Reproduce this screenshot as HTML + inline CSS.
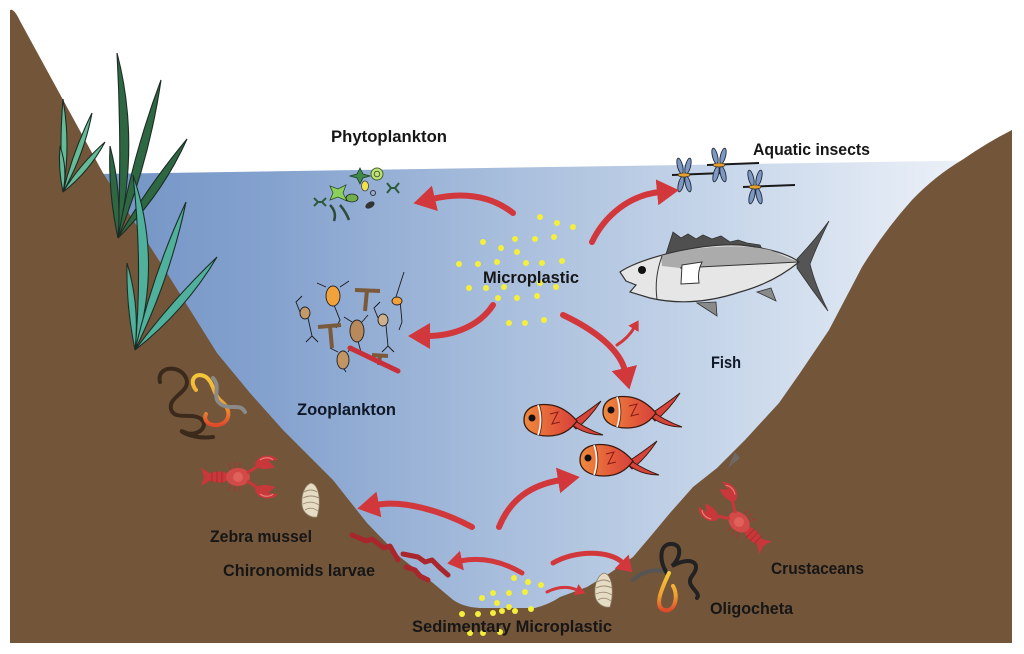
<!DOCTYPE html>
<html><head><meta charset="utf-8"><style>
html,body{margin:0;padding:0;background:#fff;}
svg{display:block;}
text{font-family:"Liberation Sans",sans-serif;font-weight:bold;font-size:16.5px;fill:#161616;}
</style></head><body>
<svg width="1024" height="654" viewBox="0 0 1024 654" xmlns="http://www.w3.org/2000/svg">
<defs>
<linearGradient id="wat" x1="100" y1="0" x2="1000" y2="0" gradientUnits="userSpaceOnUse">
<stop offset="0" stop-color="#7394c5"/><stop offset="0.2" stop-color="#86a3cf"/><stop offset="0.45" stop-color="#a8bedc"/><stop offset="0.7" stop-color="#c8d7ea"/><stop offset="0.9" stop-color="#e4ebf5"/><stop offset="1" stop-color="#f0f4f9"/>
</linearGradient>
<linearGradient id="fishg" x1="0" y1="0" x2="1" y2="0">
<stop offset="0" stop-color="#f08a3e"/><stop offset="0.6" stop-color="#e25a3a"/><stop offset="1" stop-color="#d6403a"/>
</linearGradient>
<linearGradient id="wormy" x1="0" y1="0" x2="0" y2="1">
<stop offset="0" stop-color="#f4c83a"/><stop offset="0.6" stop-color="#f0a030"/><stop offset="1" stop-color="#e04a2a"/>
</linearGradient>
<marker id="ab" markerUnits="userSpaceOnUse" markerWidth="26" markerHeight="28" refX="3" refY="13" orient="auto"><path d="M0,0 L22,13 L0,26 Z" fill="#d2373b"/></marker>
<marker id="am" markerUnits="userSpaceOnUse" markerWidth="20" markerHeight="22" refX="2" refY="10" orient="auto"><path d="M0,0 L15,10 L0,20 Z" fill="#d2373b"/></marker>
<marker id="as" markerUnits="userSpaceOnUse" markerWidth="14" markerHeight="14" refX="1" refY="6" orient="auto"><path d="M0,0 L10,6 L0,12 Z" fill="#d2373b"/></marker>
<g id="rfish">
<path d="M46,3 Q60,-6 77,-19 Q66,-2 52,9 Z" fill="#d9443a" stroke="#3a1a10" stroke-width="1"/>
<path d="M46,-3 Q60,8 79,15 Q62,15 48,5 Z" fill="#d9443a" stroke="#3a1a10" stroke-width="1"/>
<path d="M0,0 C0,-13 13,-17 27,-15 C39,-13 47,-6 53,1 C46,11 36,16 24,16 C10,16 0,10 0,0 Z" fill="url(#fishg)" stroke="#3a1a10" stroke-width="1.3"/>
<path d="M14,-15 Q19,0 14,15" fill="none" stroke="#fff" stroke-width="1.5"/>
<path d="M14,-15 Q19,0 14,15" fill="none" stroke="#3a1a10" stroke-width="0.6" transform="translate(1.5,0)"/>
<circle cx="8" cy="-2" r="3.5" fill="#111"/>
<path d="M26,-6 L34,-8 L28,4 L36,2" fill="none" stroke="#8a1a18" stroke-width="1"/>
</g>
<g id="cray">
<g stroke="#b52e30" stroke-width="0.8" fill="none">
<path d="M-6,6 L-10,14 M-2,7 L-4,15 M2,7 L2,15 M-6,-6 L-10,-14 M-2,-7 L-4,-15 M2,-7 L2,-15"/>
<path d="M10,-3 L32,-20 M10,3 L32,20"/>
</g>
<path d="M-37,-9 L-27,-3 L-27,3 L-37,9 L-34,0 Z" fill="#c8373a"/>
<ellipse cx="-19" cy="0" rx="11" ry="5.5" fill="#c8373a"/>
<path d="M-26,-5 L-26,5 M-21,-6 L-21,6 M-16,-6 L-16,6" stroke="#a52a2c" stroke-width="0.8"/>
<ellipse cx="0" cy="0" rx="12" ry="9" fill="#d24a48"/>
<circle cx="0" cy="0" r="5" fill="#e0605a"/>
<path d="M9,-4 L20,-11 M9,4 L20,11" stroke="#c8373a" stroke-width="3"/>
<path d="M17,-13 C20,-23 34,-24 40,-17 L30,-16 L37,-10 C29,-7 20,-7 17,-13 Z" fill="#c8373a"/>
<path d="M17,13 C20,23 34,24 40,17 L30,16 L37,10 C29,7 20,7 17,13 Z" fill="#c8373a"/>
<path d="M22,-17 C26,-20 32,-20 35,-17" stroke="#e88078" stroke-width="1.2" fill="none"/>
<path d="M22,17 C26,20 32,20 35,17" stroke="#e88078" stroke-width="1.2" fill="none"/>
</g>
<g id="mussel">
<path d="M0,-17 C9,-15 10,4 6,17 C0,18 -8,14 -9,5 C-10,-6 -6,-15 0,-17 Z" fill="#e6dcc3" stroke="#8a7d65" stroke-width="0.8"/>
<path d="M-7,-8 Q0,-12 6,-8 M-8,-2 Q0,-6 8,-2 M-8,4 Q0,0 8,5 M-6,10 Q0,6 7,11" fill="none" stroke="#9a8c70" stroke-width="0.9"/>
</g>
<g id="dfly">
<ellipse cx="-4" cy="-9" rx="2.6" ry="8" transform="rotate(-14 -4 -9)" fill="#7f98c2" stroke="#1e2a3a" stroke-width="0.9"/>
<ellipse cx="4" cy="-9" rx="2.6" ry="8" transform="rotate(14 4 -9)" fill="#7f98c2" stroke="#1e2a3a" stroke-width="0.9"/>
<ellipse cx="-3" cy="9" rx="2.6" ry="8" transform="rotate(14 -3 9)" fill="#7f98c2" stroke="#1e2a3a" stroke-width="0.9"/>
<ellipse cx="4" cy="9" rx="2.6" ry="8" transform="rotate(-14 4 9)" fill="#7f98c2" stroke="#1e2a3a" stroke-width="0.9"/>
<path d="M-12,0 L40,-2" stroke="#1a1a1a" stroke-width="2"/>
<ellipse cx="0" cy="0" rx="6" ry="2" fill="#e6a030" stroke="#222" stroke-width="0.6"/>
</g>
</defs>

<rect width="1024" height="654" fill="#fff"/>
<!-- water -->
<path d="M98,174 L1005,160 L1005,640 L98,640 Z" fill="url(#wat)"/>
<!-- ground -->
<path d="M10,10 Q14,8 20,21 L103,173 L160,262 L217,353 L250,393 L283,430 L333,480 L367,523 L400,557 L433,583 L452,599 Q462,607 480,608 L535,608 Q550,604 560,597 L587,587 L610,573 L633,557 L650,537 L670,513 L693,487 L717,468 L745,440 L779,403 L800,373 L829,330 L862,267 Q885,230 912,200 Q935,176 962,160 Q988,142 1012,130 L1012,643 L10,643 Z" fill="#73553a"/>
<path d="M735,452 L728,468 L740,458 Z" fill="#6e7480" opacity="0.6"/>

<!-- grass -->
<g stroke="#1c2c24" stroke-width="1.1">
<path d="M63,192 Q71,145 63,99 Q59,145 63,192Z" fill="#63bb98"/>
<path d="M63,192 Q84,155 92,113 Q73,151 63,192Z" fill="#63bb98"/>
<path d="M63,192 Q89,172 105,142 Q80,164 63,192Z" fill="#63bb98"/>
<path d="M63,192 Q68,169 60,146 Q58,169 63,192Z" fill="#63bb98"/>
<path d="M118,238 Q140,140 117,53 Q122,145 118,238Z" fill="#2e6843"/>
<path d="M118,238 Q149,162 161,80 Q132,157 118,238Z" fill="#2e6843"/>
<path d="M118,238 Q162,195 187,139 Q148,186 118,238Z" fill="#2e6843"/>
<path d="M118,238 Q122,192 110,146 Q108,192 118,238Z" fill="#2e6843"/>
<path d="M135,350 Q163,262 133,175 Q143,265 135,350Z" fill="#4fb09c"/>
<path d="M135,350 Q170,279 186,202 Q153,273 135,350Z" fill="#4fb09c"/>
<path d="M135,350 Q185,311 217,257 Q172,300 135,350Z" fill="#4fb09c"/>
<path d="M135,350 Q140,306 127,263 Q126,306 135,350Z" fill="#4fb09c"/>
</g>

<!-- phytoplankton -->
<path d="M360,168 L363,174 L370,176 L363,178 L360,184 L357,178 L350,176 L357,174Z" fill="#3f8a4a" stroke="#1d3d24" stroke-width="0.8"/>
<path d="M330,186 L338,189 L346,185 L343,193 L347,201 L338,197 L330,200 L333,193Z" fill="#8ccf5a" stroke="#2b4b2b" stroke-width="0.8"/>
<circle cx="377" cy="174" r="6" fill="#c9e07a" stroke="#3b6a2a" stroke-width="1"/>
<circle cx="377" cy="174" r="2.8" fill="none" stroke="#3b6a2a" stroke-width="1"/>
<ellipse cx="365" cy="186" rx="3.5" ry="5" fill="#f2e24a" stroke="#444" stroke-width="0.8"/>
<ellipse cx="352" cy="198" rx="6" ry="4" fill="#6fae4a" stroke="#222" stroke-width="0.8"/>
<path d="M314,198 L318,202 L314,206 M326,198 L322,202 L326,206 M318,202 L322,202 M387,183 L391,188 L387,193 M399,183 L395,188 L399,193 M391,188 L395,188" fill="none" stroke="#2d5a3a" stroke-width="2"/>
<path d="M330,205 Q337,212 334,221 M340,205 Q346,212 349,220" fill="none" stroke="#2d4a3a" stroke-width="2.5"/>
<ellipse cx="370" cy="205" rx="5" ry="3" transform="rotate(-30 370 205)" fill="#333"/>
<circle cx="373" cy="193" r="2.5" fill="none" stroke="#333" stroke-width="1"/>

<!-- zooplankton -->
<g stroke="#1a1a1a" stroke-width="0.9" fill="none">
<path d="M326,287 L317,283 M340,287 L349,281 M334,305 L340,320 L336,328"/>
<path d="M352,322 L344,317 M362,322 L368,315 M358,341 L362,356"/>
<path d="M338,352 L330,348 M348,352 L352,346 M344,369 L346,372"/>
<path d="M300,312 L296,302 L302,296 M308,318 L312,336 L306,342 M312,336 L318,342"/>
<path d="M378,318 L374,308 L380,302 M386,325 L388,346 L382,352 M388,346 L394,352"/>
<path d="M395,300 L404,272 M400,300 L402,322 L399,330"/>
</g>
<ellipse cx="333" cy="296" rx="7" ry="10" fill="#f2a23a" stroke="#222" stroke-width="0.9"/>
<ellipse cx="357" cy="331" rx="7" ry="11" fill="#b8895a" stroke="#222" stroke-width="0.9"/>
<ellipse cx="343" cy="360" rx="6" ry="9" fill="#c39563" stroke="#222" stroke-width="0.9"/>
<ellipse cx="305" cy="313" rx="5" ry="6" fill="#c59a6a" stroke="#222" stroke-width="0.9"/>
<ellipse cx="383" cy="320" rx="5" ry="6" fill="#d0b08a" stroke="#222" stroke-width="0.9"/>
<ellipse cx="397" cy="301" rx="5" ry="4" fill="#f2a23a" stroke="#222" stroke-width="0.9"/>
<path d="M355,290 L380,291 M367,290 L365,311 M318,327 L341,325 M330,326 L332,348 M372,355 L388,356 M380,355 L379,365" fill="none" stroke="#7a5a3a" stroke-width="4"/>
<path d="M350,348 L398,371" stroke="#c8303a" stroke-width="5" stroke-linecap="round"/>

<!-- dragonflies -->
<use href="#dfly" transform="translate(684,175)"/>
<use href="#dfly" transform="translate(719,165)"/>
<use href="#dfly" transform="translate(755,187)"/>

<!-- big fish -->
<path d="M666,254 L673,232 L681,238 L688,234 L696,239 L703,235 L712,239 L721,236 L730,242 L738,240 L747,243 L760,245 L764,253 Z" fill="#4f4f4f" stroke="#333" stroke-width="0.8"/>
<path d="M797,259 Q815,240 829,221 Q816,248 810,264 Q815,285 828,311 Q812,290 797,268 Z" fill="#555" stroke="#333" stroke-width="0.8"/>
<path d="M697,303 L717,316 L716,302 Z" fill="#8a8a8a" stroke="#333" stroke-width="0.8"/>
<path d="M757,292 L776,301 L771,288 Z" fill="#8a8a8a" stroke="#333" stroke-width="0.8"/>
<path d="M620,272 C640,258 700,243 740,245 C770,248 790,255 799,262 C782,276 762,286 740,292 C710,302 680,305 650,298 L630,292 L636,285 L626,281 Z" fill="#e6e6e6" stroke="#333" stroke-width="1.2"/>
<path d="M661,256 C690,247 740,243 770,250 L798,262 L680,268 L662,266 Z" fill="#ababab"/>
<path d="M680,268 L798,262" stroke="#333" stroke-width="1"/>
<path d="M662,256 Q654,278 657,299" fill="none" stroke="#333" stroke-width="1"/>
<path d="M682,265 L702,262 Q697,272 699,283 L681,284 Z" fill="#fff" stroke="#333" stroke-width="1"/>
<circle cx="642" cy="270" r="4" fill="#111"/>

<!-- red fish -->
<use href="#rfish" transform="translate(524,420)"/>
<use href="#rfish" transform="translate(603,412)"/>
<use href="#rfish" transform="translate(580,460)"/>

<!-- crayfish -->
<use href="#cray" transform="translate(238,477)"/>
<use href="#cray" transform="translate(739,522) rotate(224)"/>

<!-- mussels -->
<use href="#mussel" transform="translate(311,500)"/>
<use href="#mussel" transform="translate(604,590)"/>

<!-- worms left -->
<g fill="none" stroke-linecap="round" stroke-width="4">
<path d="M160,382 C156,366 180,364 186,378 C192,392 168,396 171,409 C174,421 192,412 201,419 C210,427 196,438 184,432 C176,428 190,440 213,437" stroke="#3b2a1c"/>
<path d="M196,390 C188,380 196,371 206,377 C214,383 213,395 222,402 C232,410 230,423 218,425 C208,426 203,420 206,414" stroke="url(#wormy)"/>
<path d="M213,378 C222,388 210,398 222,405 C232,410 240,403 245,412" stroke="#8a8a8a"/>
</g>
<!-- worms right -->
<g fill="none" stroke-linecap="round" stroke-width="4">
<path d="M633,580 C642,572 652,569 664,571" stroke="#555"/>
<path d="M668,575 C658,560 660,545 670,544 C683,543 681,558 672,566 C690,556 703,562 692,576 C684,586 702,592 697,598" stroke="#222"/>
<path d="M669,573 C661,590 654,607 664,610 C675,613 679,596 673,586" stroke="url(#wormy)"/>
</g>

<!-- chironomid larvae -->
<g fill="none" stroke="#a8262c" stroke-width="5" stroke-linecap="round" stroke-linejoin="round">
<path d="M352,535 L366,541 L372,539 L384,548 L390,546 L398,560"/>
<path d="M403,554 L418,557 L425,562 L432,560 L440,568 L448,575"/>
<path d="M406,567 L415,570 L420,576 L428,580"/>
</g>

<!-- arrows -->
<g fill="none" stroke="#d2373b" stroke-linecap="round">
<path d="M513,213 C490,195 462,192 432,199" stroke-width="6" marker-end="url(#ab)"/>
<path d="M493,305 C480,325 455,336 427,336" stroke-width="6" marker-end="url(#ab)"/>
<path d="M592,242 C605,215 630,195 660,192" stroke-width="6" marker-end="url(#ab)"/>
<path d="M563,315 C595,330 620,350 625,371" stroke-width="6" marker-end="url(#ab)"/>
<path d="M617,345 Q628,338 634,328" stroke-width="3" marker-end="url(#as)"/>
<path d="M472,527 C440,510 402,500 376,505" stroke-width="6" marker-end="url(#ab)"/>
<path d="M499,527 C510,500 530,485 561,480" stroke-width="6" marker-end="url(#ab)"/>
<path d="M522,573 C500,560 480,557 460,561" stroke-width="5" marker-end="url(#am)"/>
<path d="M553,563 C575,550 610,550 623,563" stroke-width="5" marker-end="url(#am)"/>
<path d="M547,592 Q563,584 577,590" stroke-width="3" marker-end="url(#as)"/>
</g>

<!-- microplastic dots -->
<g fill="#f4ee3c">
<circle cx="540" cy="217" r="3"/><circle cx="557" cy="223" r="3"/><circle cx="573" cy="227" r="3"/>
<circle cx="483" cy="242" r="3"/><circle cx="515" cy="239" r="3"/><circle cx="535" cy="239" r="3"/><circle cx="554" cy="237" r="3"/>
<circle cx="501" cy="248" r="3"/><circle cx="517" cy="252" r="3"/>
<circle cx="459" cy="264" r="3"/><circle cx="478" cy="264" r="3"/><circle cx="497" cy="262" r="3"/><circle cx="526" cy="263" r="3"/><circle cx="542" cy="263" r="3"/><circle cx="562" cy="261" r="3"/>
<circle cx="469" cy="288" r="3"/><circle cx="486" cy="288" r="3"/><circle cx="504" cy="287" r="3"/><circle cx="540" cy="283" r="3"/><circle cx="556" cy="287" r="3"/>
<circle cx="498" cy="298" r="3"/><circle cx="517" cy="298" r="3"/><circle cx="537" cy="296" r="3"/>
<circle cx="509" cy="323" r="3"/><circle cx="525" cy="323" r="3"/><circle cx="544" cy="320" r="3"/>
<circle cx="514" cy="578" r="3"/><circle cx="528" cy="582" r="3"/><circle cx="541" cy="585" r="3"/>
<circle cx="493" cy="593" r="3"/><circle cx="509" cy="593" r="3"/><circle cx="525" cy="592" r="3"/>
<circle cx="482" cy="598" r="3"/><circle cx="497" cy="603" r="3"/><circle cx="509" cy="607" r="3"/>
<circle cx="502" cy="611" r="3"/><circle cx="515" cy="611" r="3"/><circle cx="531" cy="609" r="3"/>
<circle cx="493" cy="613" r="3"/><circle cx="462" cy="614" r="3"/><circle cx="478" cy="614" r="3"/>
<circle cx="470" cy="633" r="3"/><circle cx="483" cy="633" r="3"/><circle cx="500" cy="632" r="3"/>
</g>

<!-- labels -->
<text x="331" y="142" textLength="116" lengthAdjust="spacingAndGlyphs">Phytoplankton</text>
<text x="753" y="155" textLength="117" lengthAdjust="spacingAndGlyphs">Aquatic insects</text>
<text x="483" y="283" textLength="96" lengthAdjust="spacingAndGlyphs">Microplastic</text>
<text x="297" y="415" textLength="99" lengthAdjust="spacingAndGlyphs" style="fill:#101828">Zooplankton</text>
<text x="711" y="368" textLength="30" lengthAdjust="spacingAndGlyphs" style="fill:#101828">Fish</text>
<text x="210" y="542" textLength="102" lengthAdjust="spacingAndGlyphs">Zebra mussel</text>
<text x="223" y="576" textLength="152" lengthAdjust="spacingAndGlyphs">Chironomids larvae</text>
<text x="412" y="632" textLength="200" lengthAdjust="spacingAndGlyphs">Sedimentary Microplastic</text>
<text x="771" y="574" textLength="93" lengthAdjust="spacingAndGlyphs">Crustaceans</text>
<text x="710" y="614" textLength="83" lengthAdjust="spacingAndGlyphs">Oligocheta</text>
</svg>
</body></html>
